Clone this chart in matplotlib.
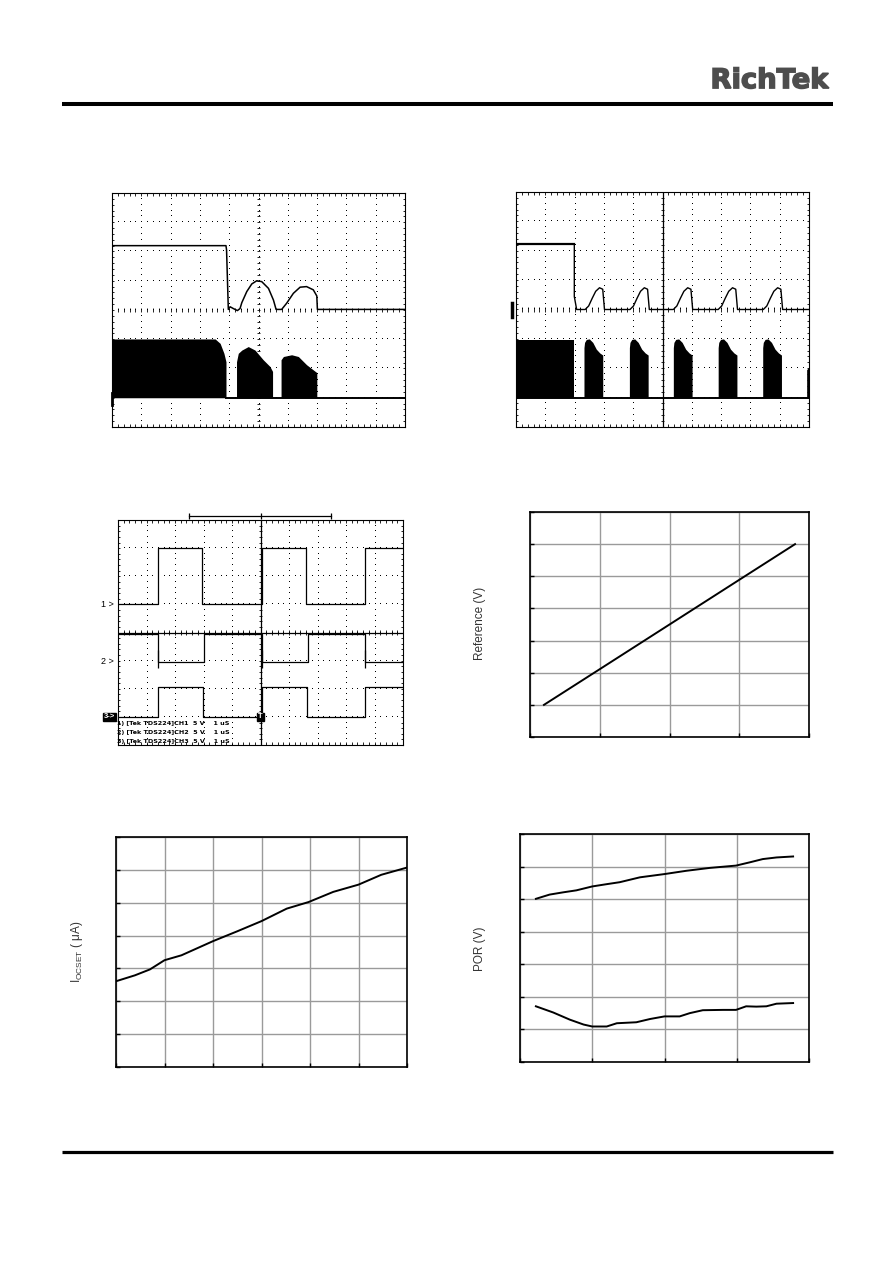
import numpy as np
import matplotlib
matplotlib.use("Agg")
import matplotlib.pyplot as plt
from matplotlib.textpath import TextPath
from matplotlib.patches import PathPatch
from matplotlib.font_manager import FontProperties
from matplotlib.transforms import Affine2D

plt.rcParams['font.family'] = ['Liberation Sans', 'DejaVu Sans']

W, H = 892, 1263

#==============================================================================
# scope shot 1 (screen divisions, 10 x 8)
s1_up_x = [0.00, 3.89, 3.91, 3.97, 4.03, 4.14, 4.28, 4.37, 4.43, 4.60, 4.77, 4.94,
           5.11, 5.34, 5.51, 5.60, 5.79, 5.96, 6.19, 6.42, 6.64, 6.87, 6.99, 7.01, 10.0]
s1_up_y = [6.20, 6.20, 6.05, 4.02, 4.11, 4.05, 3.98, 4.05, 4.25, 4.63, 4.89, 5.00,
           4.97, 4.74, 4.34, 4.02, 4.02, 4.23, 4.57, 4.78, 4.80, 4.69, 4.48, 4.02, 4.02]
s1_b1_x = [0.00, 3.52, 3.69, 3.82, 3.89]
s1_b1_y = [3.01, 3.01, 2.86, 2.52, 2.23]
s1_b2_x = [4.25, 4.31, 4.43, 4.65, 4.88, 5.16, 5.39, 5.48]
s1_b2_y = [2.23, 2.52, 2.63, 2.75, 2.63, 2.30, 2.07, 1.90]
s1_b3_x = [5.77, 5.85, 6.13, 6.36, 6.64, 6.99]
s1_b3_y = [2.30, 2.41, 2.47, 2.41, 2.13, 1.86]
s1_lo_base = 1.0

# scope shot 2
s2_hi_end = 1.99
s2_hi = 6.22
s2_drop = 4.44
s2_base = 4.0
s2_hump_at = [2.36, 3.89, 5.37, 6.90, 8.44]
s2_hump_dx = [0.00, 0.12, 0.24, 0.36, 0.49, 0.60, 0.66]
s2_hump_dy = [0.00, 0.12, 0.38, 0.62, 0.74, 0.69, 0.00]
s2_sw_top = 2.96
s2_burst_at = [2.32, 3.87, 5.37, 6.90, 8.42]
s2_burst_dx = [0.00, 0.02, 0.08, 0.18, 0.30, 0.42, 0.54, 0.64]
s2_burst_top = [2.70, 2.88, 2.98, 3.00, 2.88, 2.65, 2.52, 2.45]
s2_tail_x = [9.92, 10.0]
s2_tail_top = [1.95, 2.05]
s2_lo_base = 1.0

# scope shot 3 (three channels)
ch1_edges = [1.42, 2.96, 5.04, 6.60, 8.67]
ch2_edges = [1.42, 3.03, 5.04, 6.68, 8.67]
ch3_edges = [1.42, 2.99, 5.04, 6.62, 8.67]
ch1_low, ch1_high = 5.0, 7.0
ch2_low, ch2_high = 2.96, 3.95
ch3_low, ch3_high = 1.0, 2.06
ch2_spike = (2.73, 3.38)
s3_notes = ["1) [Tek TDS224]CH1  5 V    1 uS",
            "2) [Tek TDS224]CH2  5 V    1 uS",
            "3) [Tek TDS224]CH3  5 V    1 uS"]

# Reference voltage
ref_x = [0.2, 1.0, 2.0, 3.0, 3.8]
ref_y = [1.00, 2.11, 3.50, 4.89, 6.00]

# IOCSET
ioc_x = [0.0, 0.39, 0.70, 1.0, 1.35, 2.0, 2.5, 3.0, 3.52, 3.97, 4.48, 5.0, 5.47, 6.0]
ioc_y = [2.61, 2.79, 2.97, 3.25, 3.40, 3.83, 4.13, 4.44, 4.82, 5.02, 5.33, 5.55, 5.85, 6.07]

# POR rising / falling
por_hi_x = [0.22, 0.41, 0.60, 0.78, 1.0, 1.2, 1.38, 1.66, 2.0, 2.3, 2.63, 2.99, 3.18, 3.36, 3.55, 3.78]
por_hi_y = [5.01, 5.14, 5.21, 5.27, 5.39, 5.46, 5.52, 5.67, 5.77, 5.87, 5.96, 6.03, 6.13, 6.23, 6.28, 6.31]
por_lo_x = [0.22, 0.46, 0.69, 0.88, 1.0, 1.2, 1.34, 1.61, 1.80, 2.0, 2.21, 2.35, 2.53, 2.81, 2.99,
            3.13, 3.27, 3.41, 3.55, 3.78]
por_lo_y = [1.71, 1.52, 1.30, 1.15, 1.09, 1.09, 1.19, 1.22, 1.32, 1.40, 1.40, 1.50, 1.59, 1.60, 1.60,
            1.71, 1.70, 1.71, 1.79, 1.81]
#==============================================================================

def rect(x0, y0, x1, y1):
    return [x0 / W, 1 - y1 / H, (x1 - x0) / W, (y1 - y0) / H]


def scope(ax, solid_v=False, solid_h=False):
    ax.set_xlim(0, 10)
    ax.set_ylim(0, 8)
    ax.set_xticks([])
    ax.set_yticks([])
    for s in ax.spines.values():
        s.set_linewidth(0.8)
    xs = np.arange(0, 10.01, 0.2)
    ys = np.arange(0, 8.01, 0.2)
    for i in range(1, 10):
        ax.plot(np.full_like(ys, i), ys, ls='none', marker=',', color='k')
    for j in range(1, 8):
        ax.plot(xs, np.full_like(xs, j), ls='none', marker=',', color='k')
    lw = 0.6
    ax.vlines(xs, 0, 0.1, color='k', lw=lw)
    ax.vlines(xs, 7.9, 8, color='k', lw=lw)
    ax.hlines(ys, 0, 0.08, color='k', lw=lw)
    ax.hlines(ys, 9.92, 10, color='k', lw=lw)
    ax.vlines(xs, 3.92, 4.08, color='k', lw=lw)
    ax.hlines(ys, 4.94, 5.06, color='k', lw=lw)
    if solid_v:
        ax.axvline(5, color='k', lw=0.9)
    if solid_h:
        ax.axhline(4, color='k', lw=0.9)


def square(edges, lo, hi, start_hi):
    lvl = hi if start_hi else lo
    x, y = [0.0], [lvl]
    for e in edges:
        x.append(e)
        y.append(lvl)
        lvl = lo if lvl == hi else hi
        x.append(e)
        y.append(lvl)
    x.append(10.0)
    y.append(lvl)
    return x, y


def xy(ax, nx, ny, label, lx, ly):
    ax.set_xlim(0, nx)
    ax.set_ylim(0, ny)
    ax.set_xticks(range(nx + 1))
    ax.set_yticks(range(ny + 1))
    ax.tick_params(direction='in', length=3, width=1, labelleft=False, labelbottom=False)
    ax.grid(color='#9a9a9a', lw=1)
    for s in ['top', 'right', 'left', 'bottom']:
        ax.spines[s].set_linewidth(1.2)
    fig.text(lx / W, 1 - ly / H, label, rotation=90, ha='center', va='center',
             fontsize=8.5, color='#333333')


fig = plt.figure(figsize=(W / 100, H / 100), dpi=100)

# page furniture
bg = fig.add_axes([0, 0, 1, 1])
bg.set_xlim(0, W)
bg.set_ylim(H, 0)
bg.axis('off')
bg.plot([62, 833], [103.5, 103.5], color='k', lw=2.9, solid_capstyle='butt')
bg.plot([62, 833], [1151.5, 1151.5], color='k', lw=2.3, solid_capstyle='butt')
tp = TextPath((0, 0), 'RichTek', size=1, prop=FontProperties(family='DejaVu Sans', weight='bold'))
bb = tp.get_extents()
tr = Affine2D().translate(-bb.x0, -bb.y0).scale(116 / bb.width, -21 / bb.height).translate(713, 88.5)
bg.add_patch(PathPatch(tr.transform_path(tp), facecolor='#4d4d4d', edgecolor='#4d4d4d', lw=1.1))

# scope 1
ax1 = fig.add_axes(rect(112, 193, 405, 427))
scope(ax1)
ax1.plot(s1_up_x, s1_up_y, color='k', lw=1.1)
for bx, by in [(s1_b1_x, s1_b1_y), (s1_b2_x, s1_b2_y), (s1_b3_x, s1_b3_y)]:
    ax1.fill_between(bx, s1_lo_base, by, color='k', lw=0)
ax1.plot([s1_b1_x[-1], 10], [s1_lo_base, s1_lo_base], color='k', lw=1.4)
ax1.plot([0.0, 0.0], [s1_lo_base - 0.25, s1_lo_base + 0.15], color='k', lw=2, clip_on=False)

# scope 2
ax2 = fig.add_axes(rect(516, 192, 809, 427))
scope(ax2, solid_v=True)
ux = [0.0, s2_hi_end, s2_hi_end, s2_hi_end + 0.08]
uy = [s2_hi, s2_hi, s2_drop, s2_base]
for h in s2_hump_at:
    ux += [h + d for d in s2_hump_dx]
    uy += [s2_base + d for d in s2_hump_dy]
ux.append(10.0)
uy.append(s2_base)
ax2.plot(ux[:2], uy[:2], color='k', lw=1.6)
ax2.plot(ux[1:], uy[1:], color='k', lw=1.0)
ax2.fill_between([0.0, s2_hi_end], s2_lo_base, s2_sw_top, color='k', lw=0)
for b in s2_burst_at:
    ax2.fill_between([b + d for d in s2_burst_dx], s2_lo_base, s2_burst_top, color='k', lw=0)
ax2.fill_between(s2_tail_x, s2_lo_base, s2_tail_top, color='k', lw=0)
ax2.plot([0, 10], [s2_lo_base, s2_lo_base], color='k', lw=1.4)
ax2.plot([-0.12, -0.12], [3.74, 4.22], color='k', lw=2.5, clip_on=False)

# scope 3
ax3 = fig.add_axes(rect(118, 520, 403, 745))
scope(ax3, solid_v=True, solid_h=True)
for edges, lo, hi, st in [(ch1_edges, ch1_low, ch1_high, False),
                          (ch2_edges, ch2_low, ch2_high, True),
                          (ch3_edges, ch3_low, ch3_high, False)]:
    x, y = square(edges, lo, hi, st)
    ax3.plot(x, y, color='k', lw=0.9)
ax3.vlines(ch2_edges[::2], ch2_spike[0], ch2_spike[1], color='k', lw=0.9)
ax3.plot([2.5, 7.47], [8.14, 8.14], color='k', lw=0.9, clip_on=False)
ax3.vlines([2.5, 5.0, 7.47], 8.04, 8.26, color='k', lw=0.9, clip_on=False)
for k, t in enumerate(s3_notes):
    ax3.text(-0.05, 0.75 - 0.32 * k, t, fontsize=4.6, fontweight='bold', family='DejaVu Sans',
             va='center', ha='left')
for lbl, yy in [('1 >', ch1_low), ('2 >', ch2_low)]:
    ax3.text(-0.15, yy, lbl, fontsize=6.5, ha='right', va='center', clip_on=False)
ax3.text(-0.1, ch3_low, '3->', fontsize=5.5, ha='right', va='center', color='w', fontweight='bold',
         bbox=dict(facecolor='k', edgecolor='k', pad=0.6))
ax3.text(5.0, ch3_low, 'T', fontsize=5.5, ha='center', va='center', color='w', fontweight='bold',
         bbox=dict(facecolor='k', edgecolor='k', pad=0.6))

# Reference (V)
ax4 = fig.add_axes(rect(530, 512, 809, 737))
xy(ax4, 4, 7, 'Reference (V)', 480, 623)
ax4.plot(ref_x, ref_y, color='k', lw=1.4)

# IOCSET
ax5 = fig.add_axes(rect(116, 837, 407, 1067))
xy(ax5, 6, 7, r'I$\mathregular{_{OCSET}}$ ( $\mathregular{\mu}$A)', 77, 952)
ax5.plot(ioc_x, ioc_y, color='k', lw=1.4)

# POR (V)
ax6 = fig.add_axes(rect(520, 834, 809, 1062))
xy(ax6, 4, 7, 'POR (V)', 480, 949)
ax6.plot(por_hi_x, por_hi_y, color='k', lw=1.4)
ax6.plot(por_lo_x, por_lo_y, color='k', lw=1.4)

fig.savefig('out.png', dpi=100)
